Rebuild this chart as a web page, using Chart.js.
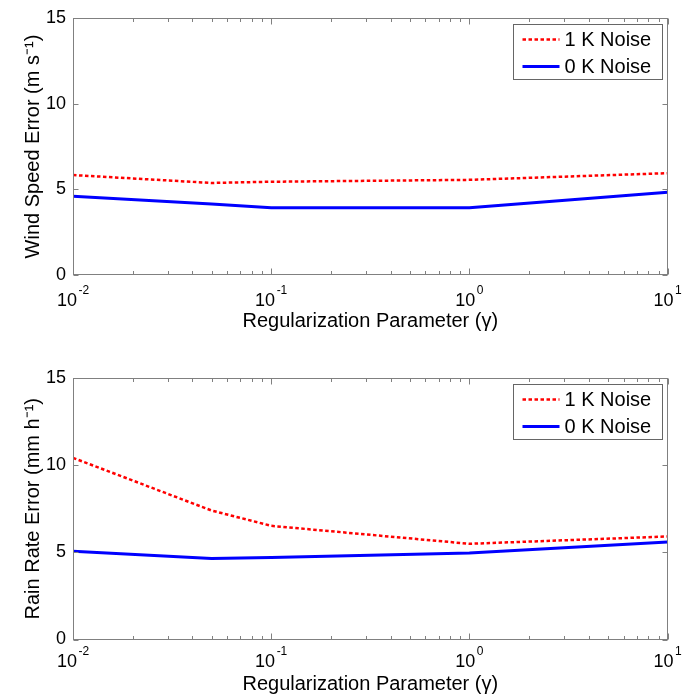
<!DOCTYPE html>
<html>
<head>
<meta charset="utf-8">
<script src="https://cdn.jsdelivr.net/npm/chart.js@4.4.0/dist/chart.umd.min.js"></script>
<style>
  html, body { margin: 0; padding: 0; background: #fff; }
  .panel { position: absolute; left: 0; width: 682px; height: 350px; }
</style>
</head>
<body>
<div class="panel" style="top:0"><canvas id="windChart"></canvas></div>
<div class="panel" style="top:350px"><canvas id="rainChart"></canvas></div>
<script>
// regularization parameter values (x) and the error curves for each noise level
const gammaValues = [0.01, 0.05, 0.1, 1, 10];
const windNoise1K = [5.84, 5.38, 5.45, 5.56, 5.95];
const windNoise0K = [4.6, 4.15, 3.93, 3.93, 4.84];
const rainNoise1K = [10.42, 7.4, 6.52, 5.49, 5.91];
const rainNoise0K = [5.06, 4.64, 4.71, 4.96, 5.59];

const seriesNames = ["1 K Noise", "0 K Noise"];
const yTickValues = [0, 5, 10, 15];
const decadeValues = [0.01, 0.1, 1, 10];
const decadeExponents = ["-2", "-1", "0", "1"];

const FONT = "'Liberation Sans', Arial, Helvetica, sans-serif";
const AXIS_GRAY = "#808080";

// minor ticks 2..9 inside each decade, plus the decades themselves
function logTicks() {
  const out = [];
  for (let d = 0; d < decadeValues.length; d++) {
    const base = decadeValues[d];
    out.push({ value: base, major: true });
    if (d < decadeValues.length - 1) {
      for (let m = 2; m <= 9; m++) out.push({ value: base * m, major: false });
    }
  }
  return out;
}

// box around the plot with inward ticks on all four sides
const framePlugin = {
  id: "frame",
  afterDatasetsDraw(chart, args, opts) {
    const { ctx, chartArea: a, scales } = chart;
    const L = Math.round(a.left) + 0.5, R = Math.round(a.right) - 0.5;
    const T = Math.round(a.top) + 0.5, B = Math.round(a.bottom) - 0.5;
    ctx.save();
    ctx.strokeStyle = AXIS_GRAY;
    ctx.lineWidth = 1;
    ctx.strokeRect(L, T, R - L, B - T);
    ctx.beginPath();
    scales.x.ticks.forEach((t) => {
      const px = Math.round(scales.x.getPixelForValue(t.value)) + 0.5;
      const len = t.major ? 6 : 3.5;
      ctx.moveTo(px, B); ctx.lineTo(px, B - len);
      ctx.moveTo(px, T); ctx.lineTo(px, T + len);
    });
    scales.y.ticks.forEach((t) => {
      const py = Math.round(scales.y.getPixelForValue(t.value)) + 0.5;
      ctx.moveTo(L, py); ctx.lineTo(L + 5, py);
      ctx.moveTo(R, py); ctx.lineTo(R - 5, py);
    });
    ctx.stroke();

    // decade labels as 10 with a raised exponent
    ctx.fillStyle = "#000";
    ctx.textBaseline = "alphabetic";
    ctx.textAlign = "left";
    const baseY = a.bottom + opts.labelOffset;
    decadeValues.forEach((v, i) => {
      const px = scales.x.getPixelForValue(v);
      ctx.font = "18px " + FONT;
      const wBase = ctx.measureText("10").width;
      ctx.font = "12px " + FONT;
      const wExp = ctx.measureText(decadeExponents[i]).width;
      const x0 = px - (wBase + 1.5 + wExp) / 2;
      ctx.font = "18px " + FONT;
      ctx.fillText("10", x0, baseY);
      ctx.font = "12px " + FONT;
      ctx.fillText(decadeExponents[i], x0 + wBase + 1.5, baseY - 12);
    });
    ctx.restore();
  }
};

// boxed legend in the upper right corner of the plot
const boxLegendPlugin = {
  id: "boxLegend",
  afterDraw(chart) {
    const { ctx, chartArea: a } = chart;
    const w = 149, h = 55;
    const x0 = Math.round(a.right - 6 - w) + 0.5;
    const y0 = Math.round(a.top + 6) + 0.5;
    ctx.save();
    ctx.fillStyle = "#fff";
    ctx.fillRect(x0, y0, w, h);
    ctx.strokeStyle = "#666";
    ctx.lineWidth = 1;
    ctx.strokeRect(x0, y0, w, h);
    ctx.font = "20px " + FONT;
    ctx.textBaseline = "middle";
    ctx.fillStyle = "#000";
    chart.data.datasets.forEach((ds, i) => {
      const cy = y0 + 15 + i * 27;
      ctx.beginPath();
      ctx.strokeStyle = ds.borderColor;
      ctx.lineWidth = ds.borderWidth;
      ctx.setLineDash(ds.borderDash || []);
      ctx.moveTo(x0 + 9, cy);
      ctx.lineTo(x0 + 46, cy);
      ctx.stroke();
      ctx.setLineDash([]);
      ctx.fillText(ds.label, x0 + 51, cy + 1);
    });
    ctx.restore();
  }
};

function makeChart(canvasId, yTitle, noisy, clean, layout) {
  const ctx = document.getElementById(canvasId).getContext("2d");
  return new Chart(ctx, {
    type: "line",
    data: {
      labels: gammaValues,
      datasets: [
        {
          label: seriesNames[0],
          data: gammaValues.map((g, i) => ({ x: g, y: noisy[i] })),
          borderColor: "#ff0000",
          borderWidth: 2.5,
          borderDash: [3.5, 2.5],
          pointRadius: 0,
          tension: 0,
          fill: false,
        },
        {
          label: seriesNames[1],
          data: gammaValues.map((g, i) => ({ x: g, y: clean[i] })),
          borderColor: "#0000ff",
          borderWidth: 3,
          pointRadius: 0,
          tension: 0,
          fill: false,
        },
      ],
    },
    options: {
      responsive: true,
      maintainAspectRatio: false,
      animation: false,
      layout: { padding: { top: layout.top, right: 14.4, bottom: 0, left: 0 } },
      plugins: {
        legend: { display: false },
        tooltip: { enabled: false },
        frame: { labelOffset: layout.labelOffset },
      },
      scales: {
        x: {
          type: "logarithmic",
          min: 0.01,
          max: 10,
          afterBuildTicks: (scale) => { scale.ticks = logTicks(); },
          afterFit: (scale) => {
            scale.height = layout.xHeight;
            scale.paddingLeft = 0;
            scale.paddingRight = 0;
          },
          grid: { display: false, drawTicks: false },
          border: { display: false },
          ticks: {
            autoSkip: false,
            maxRotation: 0,
            callback: () => "",
          },
          title: {
            display: true,
            text: "Regularization Parameter (\u03B3)",
            color: "#000",
            font: { family: FONT, size: 20 },
            padding: { top: 0, bottom: layout.titlePad },
          },
        },
        y: {
          min: 0,
          max: 15,
          afterBuildTicks: (scale) => { scale.ticks = yTickValues.map((v) => ({ value: v })); },
          afterFit: (scale) => { scale.width = 73; },
          grid: { display: false, drawTicks: false },
          border: { display: false },
          ticks: {
            padding: 7,
            color: "#000",
            font: { family: FONT, size: 18 },
          },
          title: {
            display: true,
            text: yTitle,
            color: "#000",
            font: { family: FONT, size: 20 },
            padding: { top: 21, bottom: 0 },
          },
        },
      },
    },
    plugins: [framePlugin, boxLegendPlugin],
  });
}

makeChart("windChart", "Wind Speed Error (m s\u207B\u00B9)", windNoise1K, windNoise0K,
  { top: 14, xHeight: 74.7, titlePad: 16.6, labelOffset: 30.5 });
makeChart("rainChart", "Rain Rate Error (mm h\u207B\u00B9)", rainNoise1K, rainNoise0K,
  { top: 28, xHeight: 60.5, titlePad: 4, labelOffset: 27 });
</script>
</body>
</html>
